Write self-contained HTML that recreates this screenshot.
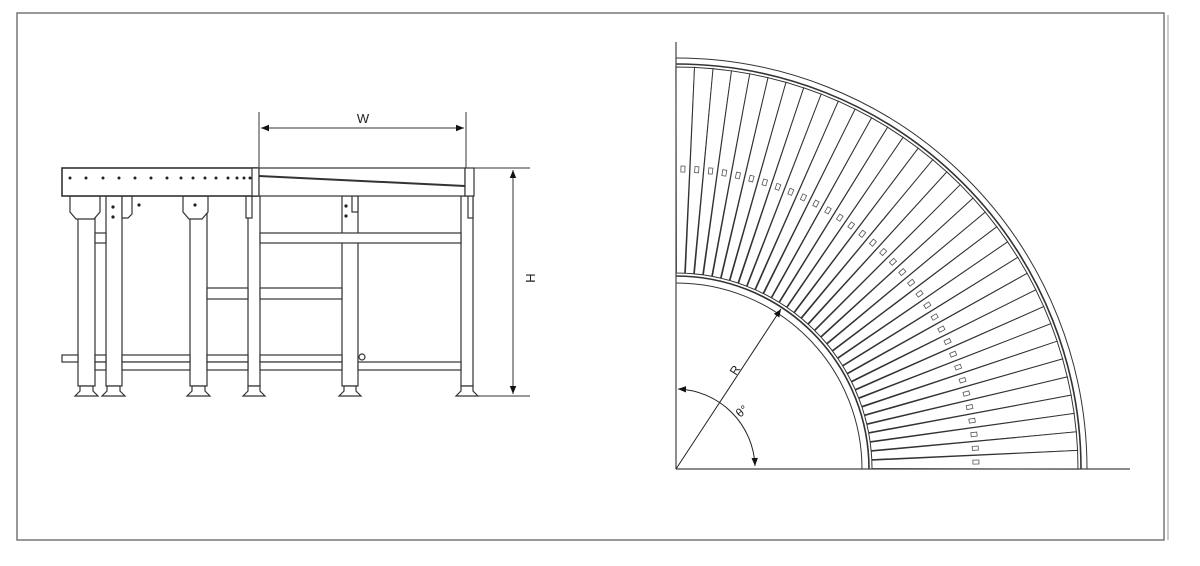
<!DOCTYPE html>
<html><head><meta charset="utf-8"><style>
html,body{margin:0;padding:0;background:#fff;}
svg{display:block;}
text{font-family:"Liberation Sans",sans-serif;fill:#222;}
</style></head><body>
<svg id="s" width="1200" height="566" viewBox="0 0 1200 566" xmlns="http://www.w3.org/2000/svg">
<defs>
<marker id="ar" viewBox="0 0 10 10" refX="10" refY="5" markerWidth="10" markerHeight="8" orient="auto-start-reverse" markerUnits="userSpaceOnUse"><path d="M0,1 L10,5 L0,9 z" fill="#111"/></marker>
</defs>
<rect x="17" y="13" width="1147" height="527" fill="none" stroke="#777" stroke-width="1.5"/>
<line x1="1168" y1="15" x2="1168" y2="540" stroke="#999" stroke-width="1"/>
<g fill="#fff" stroke="#333" stroke-width="1.2">
<rect x="78" y="196" width="17" height="190"/>
<rect x="106" y="196" width="16" height="190"/>
<rect x="190" y="196" width="17" height="190"/>
<rect x="248" y="196" width="12" height="190"/>
<rect x="342" y="196" width="16" height="190"/>
<rect x="461" y="196" width="12" height="190"/>
<rect x="95" y="233" width="11" height="10"/>
<rect x="260" y="233" width="201" height="10"/>
<rect x="207" y="288" width="41" height="11"/>
<rect x="260" y="288" width="82" height="11"/>
<rect x="62" y="355" width="16" height="7"/>
<rect x="95" y="355" width="11" height="7"/>
<rect x="122" y="355" width="68" height="7"/>
<rect x="207" y="355" width="41" height="7"/>
<rect x="260" y="355" width="82" height="7"/>
<rect x="95" y="362" width="11" height="8"/>
<rect x="122" y="362" width="68" height="8"/>
<rect x="207" y="362" width="41" height="8"/>
<rect x="260" y="362" width="82" height="8"/>
<rect x="358" y="362" width="103" height="8"/>
<circle cx="362" cy="357" r="3"/>
<path d="M80,386 h13 v5 l5,5 h-23 l5,-5z"/>
<path d="M107,386 h13 v5 l5,5 h-23 l5,-5z"/>
<path d="M192,386 h13 v5 l5,5 h-23 l5,-5z"/>
<path d="M248,386 h12 v5 l5,5 h-22 l5,-5z"/>
<path d="M344,386 h12 v5 l5,5 h-22 l5,-5z"/>
<path d="M461,386 h12 v5 l5,5 h-22 l5,-5z"/>
<path d="M70,196 h30 v16 l-6,7 h-18 l-6,-7z"/>
<path d="M183,196 h25 v16 l-6,7 h-13 l-6,-7z"/>
<path d="M122,196 h10 v18 l-4,4 h-6z"/>
<rect x="246" y="196" width="6" height="22"/>
<rect x="352" y="196" width="6" height="16"/>
<rect x="468" y="196" width="5" height="22"/>
<rect x="62" y="168" width="195" height="28" stroke-width="1.6"/>
<rect x="252" y="168" width="7" height="28"/>
<rect x="259" y="168" width="206" height="28"/>
<rect x="465" y="168" width="9" height="28"/>
</g>
<line x1="259" y1="176" x2="465" y2="186" stroke="#333" stroke-width="2"/>
<g fill="#222" id="dots"></g>
<g stroke="#333" stroke-width="1">
<line x1="259" y1="112" x2="259" y2="168"/>
<line x1="466" y1="112" x2="466" y2="168"/>
<line x1="474" y1="168" x2="530" y2="168"/>
<line x1="474" y1="396" x2="530" y2="396"/>
<line x1="261" y1="128" x2="464" y2="128" marker-start="url(#ar)" marker-end="url(#ar)"/>
<line x1="513" y1="170" x2="513" y2="394" marker-start="url(#ar)" marker-end="url(#ar)"/>
</g>
<text x="363" y="123" font-size="13" text-anchor="middle">W</text>
<text x="0" y="0" font-size="13" text-anchor="middle" transform="translate(526,278) rotate(90)">H</text>
<g id="curve" fill="none" stroke="#333" stroke-width="1"></g>
<line x1="676" y1="42" x2="676" y2="469" stroke="#444" stroke-width="1.2"/>
<line x1="676" y1="469" x2="1130" y2="469" stroke="#444" stroke-width="1.2"/>
<line x1="676" y1="469" x2="781" y2="309" stroke="#222" stroke-width="1" marker-end="url(#ar)"/>
<path d="M678,389 A80,80 0 0 1 755,466" fill="none" stroke="#222" stroke-width="1" marker-start="url(#ar)" marker-end="url(#ar)"/>
<text x="0" y="0" font-size="12" transform="translate(736,376) rotate(-57)">R</text>
<text x="0" y="0" font-size="12" transform="translate(740,418) rotate(-40)">θ°</text>
</svg>
<script>
var ns="http://www.w3.org/2000/svg";
var cx=676,cy=469,g=document.getElementById('curve');
function add(tag,a,p){var e=document.createElementNS(ns,tag);for(var k in a)e.setAttribute(k,a[k]);(p||g).appendChild(e);return e;}
function arc(r,w){add('path',{d:'M'+cx+','+(cy-r)+' A'+r+','+r+' 0 0 1 '+(cx+r)+','+cy,'stroke-width':w||1});}
arc(186);arc(193,1.6);arc(405,1.6);arc(411);
var n=34;
for(var i=0;i<n;i++){
 var a0=(i+0.04)/n*Math.PI/2,a1=(i+0.96)/n*Math.PI/2;
 var r1=196,r2=402;
 var pts=[[r1,a0],[r2,a0-0.002],[r2,a1+0.002],[r1,a1]].map(function(p){return (cx+p[0]*Math.sin(p[1])).toFixed(1)+','+(cy-p[0]*Math.cos(p[1])).toFixed(1);});
 add('polygon',{points:pts.join(' '),fill:'#fff'});
 var am=(i+0.5)/n*Math.PI/2,rm=300;
 var x=cx+rm*Math.sin(am),y=cy-rm*Math.cos(am);
 add('rect',{x:x-3,y:y-2,width:6,height:4,transform:'rotate('+(am*180/Math.PI-90)+' '+x+' '+y+')',stroke:'#555','stroke-width':0.8,fill:'#fff'});
}
var d=document.getElementById('dots');
[70,86,103,119,135,151,167,181,193,205,216,228,237,244,250].forEach(function(x){add('circle',{cx:x,cy:178,r:1.5},d);});
[[139,205],[113,207],[113,217],[195,205],[346,206],[346,216]].forEach(function(p){add('circle',{cx:p[0],cy:p[1],r:1.6},d);});
</script>
</body></html>
